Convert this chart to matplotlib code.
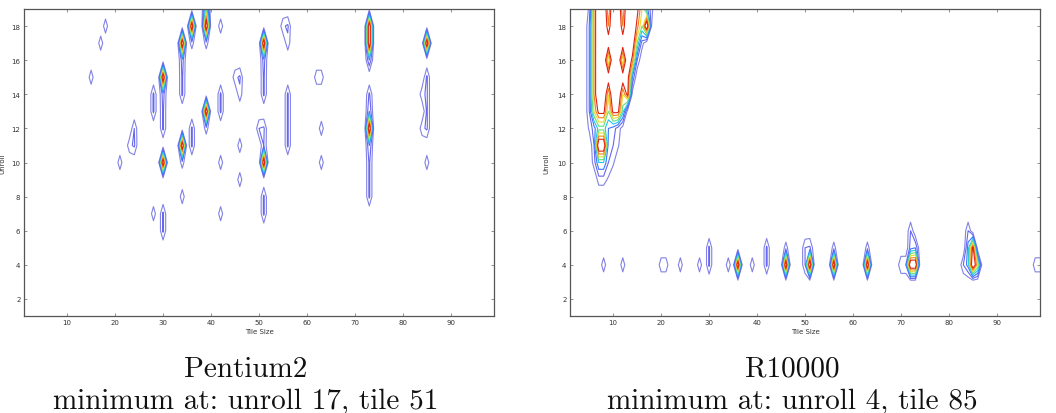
import numpy as np
import matplotlib.pyplot as plt

# grid of the two contour maps
tiles = np.arange(1, 100)
unrolls = np.arange(1, 20)

levels = [0.1, 0.2, 0.3, 0.4, 0.5, 0.6, 0.7, 0.8]
line_colors = ['#8282e6', '#6666ee', '#3a74ff', '#22c4f2', '#66e07a', '#e8dc30', '#f28220', '#e02212']

# Pentium2 : sharp peaks (value 1)
p2_peak_tile = [30, 30, 34, 34, 36, 39, 39, 51, 51, 73, 73, 73, 85]
p2_peak_unroll = [15, 10, 17, 11, 18, 18, 13, 17, 10, 17, 18, 12, 17]

# Pentium2 : weak cells
p2_cell_tile = [15, 17, 18, 21, 28, 23, 24, 24, 28, 28,
                30, 30, 30, 30, 30, 34, 34, 34, 34, 34,
                36, 36, 36, 39, 39, 39, 42, 42, 42, 42, 42,
                45, 46, 46, 46, 46, 51, 51, 51, 51, 51, 50, 51, 51,
                55, 56, 56, 56, 56, 56, 56, 62, 63, 63, 63,
                73, 73, 73, 73, 73, 73, 73, 73,
                85, 85, 85, 85, 84, 84, 85]
p2_cell_unroll = [15, 17, 18, 10, 7, 11, 11, 12, 13, 14,
                  12, 13, 14, 6, 7, 14, 15, 16, 10, 8,
                  17, 11, 12, 19, 17, 12, 18, 13, 14, 10, 7,
                  15, 15, 14, 11, 9, 14, 15, 16, 11, 12, 12, 7, 8,
                  18, 18, 17, 11, 12, 13, 14, 15, 15, 12, 10,
                  19, 16, 8, 9, 10, 11, 13, 14,
                  12, 13, 14, 15, 12, 14, 10]
p2_cell_value = [.17, .17, .17, .17, .17, .17, .22, .2, .22, .22,
                 .22, .22, .25, .22, .22, .22, .22, .25, .15, .17,
                 .15, .22, .22, .5, .15, .15, .17, .22, .22, .17, .17,
                 .17, .22, .17, .17, .17, .22, .22, .25, .2, .22, .2, .22, .22,
                 .18, .22, .17, .22, .22, .22, .22, .17, .17, .17, .17,
                 .05, .3, .22, .22, .22, .3, .3, .22,
                 .22, .22, .22, .22, .17, .17, .17]

# R10000 : unroll 4 row
r10_peak_tile = [36, 46, 51, 56, 63, 72, 73, 85]
r10_peak_unroll = [4, 4, 4, 4, 4, 4, 4, 4]

r10_cell_tile = [8, 12, 20, 21, 24, 28, 30, 30, 34, 39, 42, 42, 46, 50, 50, 51,
                 56, 63, 70, 71, 72, 72, 73, 83, 84, 84, 84, 85, 86, 98, 99]
r10_cell_unroll = [4, 4, 4, 4, 4, 4, 4, 5, 4, 4, 4, 5, 5, 4, 5, 5,
                   5, 5, 4, 4, 5, 6, 5, 4, 4, 5, 6, 5, 4, 4, 4]
r10_cell_value = [.17, .17, .17, .17, .17, .17, .22, .22, .17, .17, .22, .22, .15, .2, .2, .22,
                  .15, .15, .2, .2, .25, .2, .3, .2, .35, .35, .2, .85, .6, .17, .17]

# R10000 : small tiles, large unroll region (rows unroll 19 -> 9, cols tile 4 -> 19)
r10_block_tile = [4, 5, 6, 7, 8, 9, 10, 11, 12, 13, 14, 15, 16, 17, 18, 19]
r10_block_unroll = [19, 18, 17, 16, 15, 14, 13, 12, 11, 10, 9]
r10_block = [
    [0, .12, .7, 1, 1, .6, 1, 1, .6, 1, 1, .85, .6, .35, .13, 0],
    [0, .2, .7, 1, 1, .7, 1, 1, .7, 1, 1, .75, .5, 1, .1, 0],
    [0, .2, .7, 1, 1, .9, 1, 1, .9, 1, .95, .5, .15, 0, 0, 0],
    [0, .2, .7, 1, 1, .5, 1, 1, .5, 1, .75, .2, 0, 0, 0, 0],
    [0, .2, .7, 1, 1, .9, 1, 1, .9, .9, .3, 0, 0, 0, 0, 0],
    [0, .2, .7, 1, 1, .6, 1, 1, .6, .85, .05, 0, 0, 0, 0, 0],
    [0, .2, .6, .85, .85, .5, .85, .85, .45, .05, 0, 0, 0, 0, 0, 0],
    [0, .12, .25, .45, .45, .3, .25, .15, .05, 0, 0, 0, 0, 0, 0, 0],
    [0, 0, .2, 1, 1, .25, .2, .12, 0, 0, 0, 0, 0, 0, 0, 0],
    [0, 0, .15, .4, .4, .2, .12, 0, 0, 0, 0, 0, 0, 0, 0, 0],
    [0, 0, 0, .15, .15, .08, 0, 0, 0, 0, 0, 0, 0, 0, 0, 0],
]


def build_grid(peak_t, peak_u, cell_t, cell_u, cell_v):
    z = np.zeros((len(unrolls), len(tiles)))
    for t, u in zip(peak_t, peak_u):
        z[u - 1, t - 1] = 1.0
    for t, u, v in zip(cell_t, cell_u, cell_v):
        z[u - 1, t - 1] = v
    return z


z_p2 = build_grid(p2_peak_tile, p2_peak_unroll, p2_cell_tile, p2_cell_unroll, p2_cell_value)
z_r10 = build_grid(r10_peak_tile, r10_peak_unroll, r10_cell_tile, r10_cell_unroll, r10_cell_value)
for i, u in enumerate(r10_block_unroll):
    for j, t in enumerate(r10_block_tile):
        z_r10[u - 1, t - 1] = r10_block[i][j]


def style_axes(ax, ylab_x):
    ax.set_xlim(1, 99)
    ax.set_ylim(1, 19)
    ax.set_xticks([10, 20, 30, 40, 50, 60, 70, 80, 90])
    ax.set_yticks([2, 4, 6, 8, 10, 12, 14, 16, 18])
    ax.tick_params(direction='in', top=True, right=True, labelsize=5, length=2.5,
                   width=0.5, colors='#666666', labelcolor='#333333', pad=2.5)
    for s in ax.spines.values():
        s.set_color('#555555')
        s.set_linewidth(0.9)
    ax.set_xlabel('Tile Size', fontsize=5, color='#333333', labelpad=1.5)
    ax.set_ylabel('Unroll', fontsize=5, color='#333333')
    ax.yaxis.set_label_coords(ylab_x, 0.5)


fig = plt.figure(figsize=(10.56, 4.14), dpi=100)
ax1 = fig.add_axes([0.0227, 0.2343, 0.4451, 0.7415])
ax2 = fig.add_axes([0.5398, 0.2343, 0.4451, 0.7415])

ax1.contour(tiles, unrolls, z_p2, levels=levels, colors=line_colors, linewidths=0.8)
ax2.contour(tiles, unrolls, z_r10, levels=levels, colors=line_colors, linewidths=0.8)
style_axes(ax1, -0.04)
style_axes(ax2, -0.044)

cap = dict(family='cmr10', fontsize=21, ha='center', va='baseline', color='#111111')
fig.text(246 / 1056, 1 - 377 / 414, 'Pentium2', **cap)
fig.text(246 / 1056, 1 - 409 / 414, 'minimum at: unroll 17, tile 51', **cap)
fig.text(792 / 1056, 1 - 377 / 414, 'R10000', **cap)
fig.text(792 / 1056, 1 - 409 / 414, 'minimum at: unroll 4, tile 85', **cap)

fig.savefig('out.png', dpi=100)
